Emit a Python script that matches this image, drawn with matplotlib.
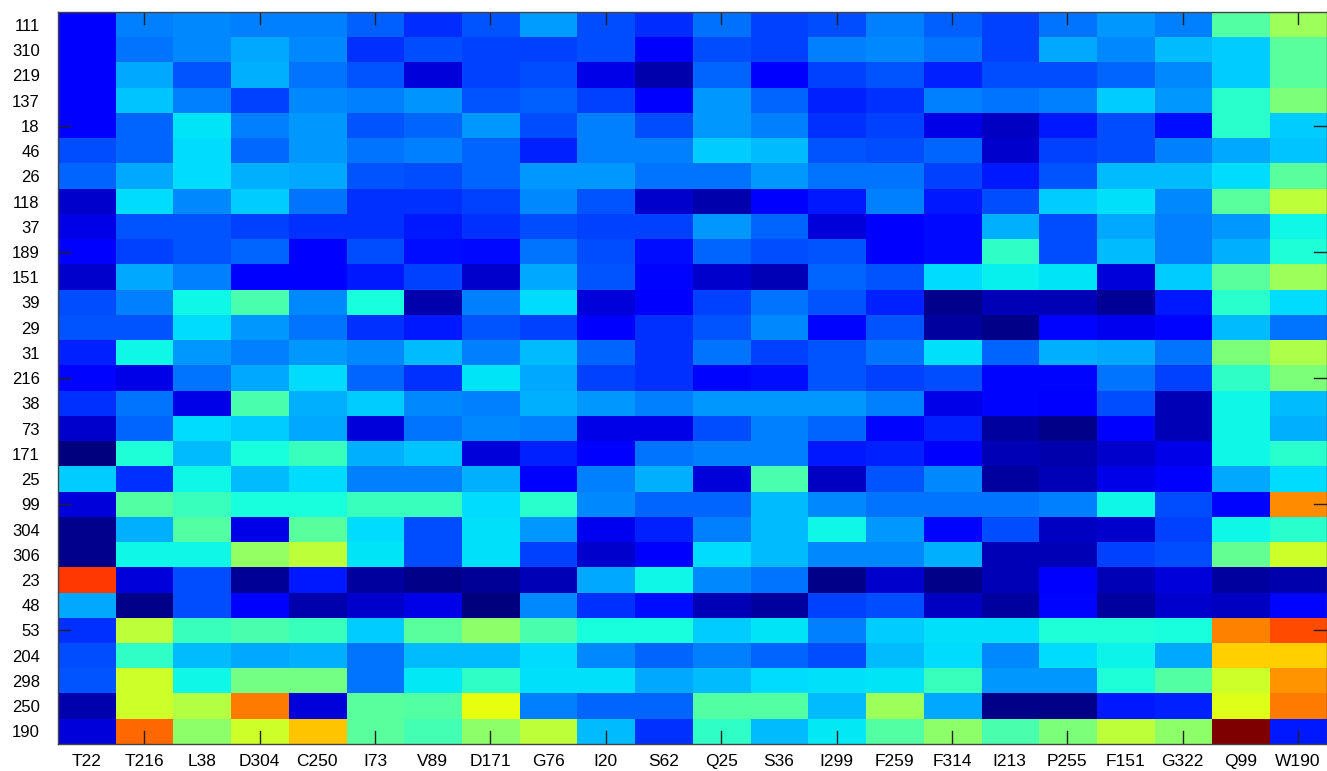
import numpy as np
import matplotlib
matplotlib.use('Agg')
import matplotlib.pyplot as plt

plt.rcParams['font.family'] = ['Liberation Sans', 'DejaVu Sans']

# residues (columns) and frames (rows)
residues = ['T22', 'T216', 'L38', 'D304', 'C250', 'I73', 'V89', 'D171', 'G76', 'I20', 'S62',
            'Q25', 'S36', 'I299', 'F259', 'F314', 'I213', 'P255', 'F151', 'G322', 'Q99', 'W190']
rows = ['111', '310', '219', '137', '18', '46', '26', '118', '37', '189', '151', '39', '29', '31',
        '216', '38', '73', '171', '25', '99', '304', '306', '23', '48', '53', '204', '298', '250', '190']

# normalised values, one list per row
scores = [
    [0.12, 0.25, 0.26, 0.25, 0.25, 0.22, 0.17, 0.21, 0.28, 0.20, 0.17, 0.235, 0.19, 0.20, 0.25, 0.22, 0.19, 0.24, 0.275, 0.25, 0.45, 0.54],
    [0.12, 0.24, 0.26, 0.29, 0.26, 0.175, 0.20, 0.19, 0.19, 0.20, 0.11, 0.20, 0.19, 0.25, 0.26, 0.24, 0.19, 0.29, 0.26, 0.31, 0.325, 0.46],
    [0.11, 0.29, 0.21, 0.30, 0.24, 0.21, 0.08, 0.19, 0.20, 0.09, 0.04, 0.225, 0.12, 0.19, 0.21, 0.16, 0.20, 0.20, 0.225, 0.26, 0.325, 0.46],
    [0.12, 0.32, 0.25, 0.19, 0.26, 0.25, 0.27, 0.21, 0.22, 0.19, 0.12, 0.275, 0.225, 0.16, 0.175, 0.25, 0.24, 0.25, 0.325, 0.275, 0.40, 0.50],
    [0.115, 0.225, 0.35, 0.25, 0.275, 0.21, 0.225, 0.275, 0.20, 0.25, 0.20, 0.275, 0.25, 0.175, 0.19, 0.09, 0.06, 0.15, 0.20, 0.14, 0.40, 0.325],
    [0.20, 0.225, 0.34, 0.23, 0.275, 0.24, 0.25, 0.225, 0.16, 0.25, 0.25, 0.325, 0.31, 0.21, 0.20, 0.225, 0.07, 0.19, 0.20, 0.25, 0.29, 0.32],
    [0.225, 0.29, 0.34, 0.30, 0.29, 0.21, 0.20, 0.225, 0.275, 0.275, 0.24, 0.24, 0.275, 0.24, 0.24, 0.19, 0.15, 0.21, 0.31, 0.31, 0.34, 0.46],
    [0.07, 0.34, 0.26, 0.325, 0.24, 0.175, 0.175, 0.19, 0.26, 0.21, 0.07, 0.04, 0.12, 0.15, 0.25, 0.15, 0.20, 0.325, 0.345, 0.26, 0.46, 0.58],
    [0.09, 0.21, 0.21, 0.19, 0.175, 0.175, 0.15, 0.175, 0.20, 0.19, 0.19, 0.275, 0.225, 0.08, 0.12, 0.135, 0.30, 0.20, 0.29, 0.25, 0.275, 0.37],
    [0.11, 0.19, 0.21, 0.225, 0.12, 0.20, 0.14, 0.135, 0.24, 0.20, 0.14, 0.225, 0.20, 0.21, 0.12, 0.135, 0.41, 0.20, 0.31, 0.25, 0.30, 0.39],
    [0.07, 0.29, 0.25, 0.12, 0.12, 0.15, 0.19, 0.07, 0.29, 0.21, 0.13, 0.07, 0.05, 0.225, 0.21, 0.34, 0.36, 0.35, 0.08, 0.325, 0.46, 0.54],
    [0.20, 0.25, 0.37, 0.44, 0.26, 0.38, 0.04, 0.25, 0.34, 0.08, 0.12, 0.19, 0.24, 0.21, 0.16, 0.015, 0.05, 0.05, 0.02, 0.15, 0.40, 0.34],
    [0.21, 0.21, 0.34, 0.275, 0.24, 0.175, 0.15, 0.21, 0.19, 0.12, 0.175, 0.21, 0.26, 0.13, 0.21, 0.03, 0.01, 0.13, 0.10, 0.13, 0.31, 0.24],
    [0.16, 0.37, 0.275, 0.25, 0.275, 0.26, 0.31, 0.25, 0.31, 0.225, 0.175, 0.24, 0.19, 0.21, 0.24, 0.345, 0.225, 0.30, 0.29, 0.24, 0.50, 0.56],
    [0.13, 0.09, 0.24, 0.29, 0.34, 0.225, 0.175, 0.35, 0.29, 0.19, 0.175, 0.13, 0.14, 0.21, 0.19, 0.20, 0.13, 0.13, 0.24, 0.19, 0.41, 0.50],
    [0.175, 0.24, 0.09, 0.44, 0.30, 0.325, 0.26, 0.25, 0.30, 0.275, 0.25, 0.275, 0.275, 0.275, 0.25, 0.09, 0.13, 0.12, 0.20, 0.05, 0.37, 0.31],
    [0.07, 0.225, 0.34, 0.325, 0.29, 0.08, 0.24, 0.26, 0.25, 0.09, 0.09, 0.20, 0.25, 0.225, 0.13, 0.16, 0.03, 0.01, 0.12, 0.05, 0.37, 0.30],
    [0.00, 0.39, 0.31, 0.38, 0.42, 0.30, 0.32, 0.08, 0.16, 0.12, 0.24, 0.25, 0.25, 0.15, 0.16, 0.12, 0.05, 0.04, 0.07, 0.09, 0.37, 0.40],
    [0.325, 0.175, 0.37, 0.31, 0.34, 0.25, 0.25, 0.30, 0.12, 0.25, 0.30, 0.08, 0.44, 0.06, 0.21, 0.26, 0.03, 0.05, 0.09, 0.12, 0.29, 0.34],
    [0.08, 0.45, 0.42, 0.38, 0.38, 0.42, 0.42, 0.34, 0.40, 0.26, 0.225, 0.225, 0.31, 0.26, 0.24, 0.24, 0.24, 0.25, 0.37, 0.20, 0.13, 0.76],
    [0.015, 0.30, 0.45, 0.09, 0.46, 0.34, 0.20, 0.345, 0.275, 0.10, 0.16, 0.25, 0.31, 0.37, 0.275, 0.13, 0.20, 0.06, 0.07, 0.19, 0.37, 0.40],
    [0.015, 0.37, 0.37, 0.53, 0.58, 0.35, 0.20, 0.345, 0.19, 0.07, 0.12, 0.34, 0.31, 0.26, 0.26, 0.30, 0.05, 0.05, 0.19, 0.20, 0.47, 0.60],
    [0.85, 0.08, 0.20, 0.02, 0.15, 0.03, 0.01, 0.02, 0.05, 0.29, 0.37, 0.26, 0.24, 0.01, 0.07, 0.01, 0.05, 0.11, 0.05, 0.08, 0.03, 0.04],
    [0.29, 0.01, 0.20, 0.11, 0.04, 0.07, 0.09, 0.00, 0.26, 0.175, 0.14, 0.05, 0.03, 0.19, 0.20, 0.06, 0.03, 0.13, 0.03, 0.07, 0.06, 0.13],
    [0.175, 0.58, 0.42, 0.44, 0.42, 0.325, 0.46, 0.52, 0.44, 0.38, 0.38, 0.325, 0.35, 0.25, 0.325, 0.345, 0.345, 0.39, 0.39, 0.38, 0.77, 0.83],
    [0.20, 0.41, 0.31, 0.29, 0.30, 0.24, 0.31, 0.31, 0.34, 0.26, 0.225, 0.25, 0.225, 0.20, 0.31, 0.34, 0.26, 0.34, 0.365, 0.29, 0.69, 0.69],
    [0.21, 0.60, 0.37, 0.49, 0.49, 0.24, 0.355, 0.41, 0.345, 0.345, 0.29, 0.31, 0.34, 0.345, 0.35, 0.42, 0.275, 0.275, 0.39, 0.45, 0.60, 0.75],
    [0.04, 0.60, 0.57, 0.78, 0.08, 0.46, 0.45, 0.63, 0.25, 0.225, 0.225, 0.45, 0.45, 0.31, 0.54, 0.29, 0.01, 0.01, 0.15, 0.16, 0.62, 0.78],
    [0.08, 0.80, 0.52, 0.60, 0.70, 0.46, 0.43, 0.52, 0.58, 0.31, 0.175, 0.41, 0.31, 0.355, 0.45, 0.52, 0.44, 0.50, 0.58, 0.52, 1.00, 0.15],
]

data = np.array(scores)

fig = plt.figure(figsize=(13.27, 7.71), dpi=100)
ax = fig.add_axes([0.0435, 0.035, 0.9565, 0.949])
ax.imshow(data, cmap='jet', vmin=0, vmax=1, aspect='auto', interpolation='nearest')

ax.set_xticks(np.arange(len(residues)))
ax.set_xticklabels(residues, fontsize=12.5)
ax.set_yticks(np.arange(len(rows)))
ax.set_yticklabels(rows, fontsize=12)
ax.tick_params(axis='x', length=0, pad=7)
ax.tick_params(axis='y', length=0, pad=13)

# MATLAB style inner ticks on every 2nd column / 5th row
for i in range(1, len(residues), 2):
    ax.plot([i, i], [-0.5, -0.02], color='#222222', lw=1)
    ax.plot([i, i], [len(rows) - 0.5, len(rows) - 1.0], color='#222222', lw=1)
for j in range(4, len(rows), 5):
    ax.plot([-0.5, -0.28], [j, j], color='#222222', lw=1)
    ax.plot([len(residues) - 0.5, len(residues) - 0.72], [j, j], color='#222222', lw=1)
ax.set_xlim(-0.5, len(residues) - 0.5)
ax.set_ylim(len(rows) - 0.5, -0.5)

for s in ax.spines.values():
    s.set_color('#444444')
    s.set_linewidth(1)

fig.savefig('out.png', dpi=100)
